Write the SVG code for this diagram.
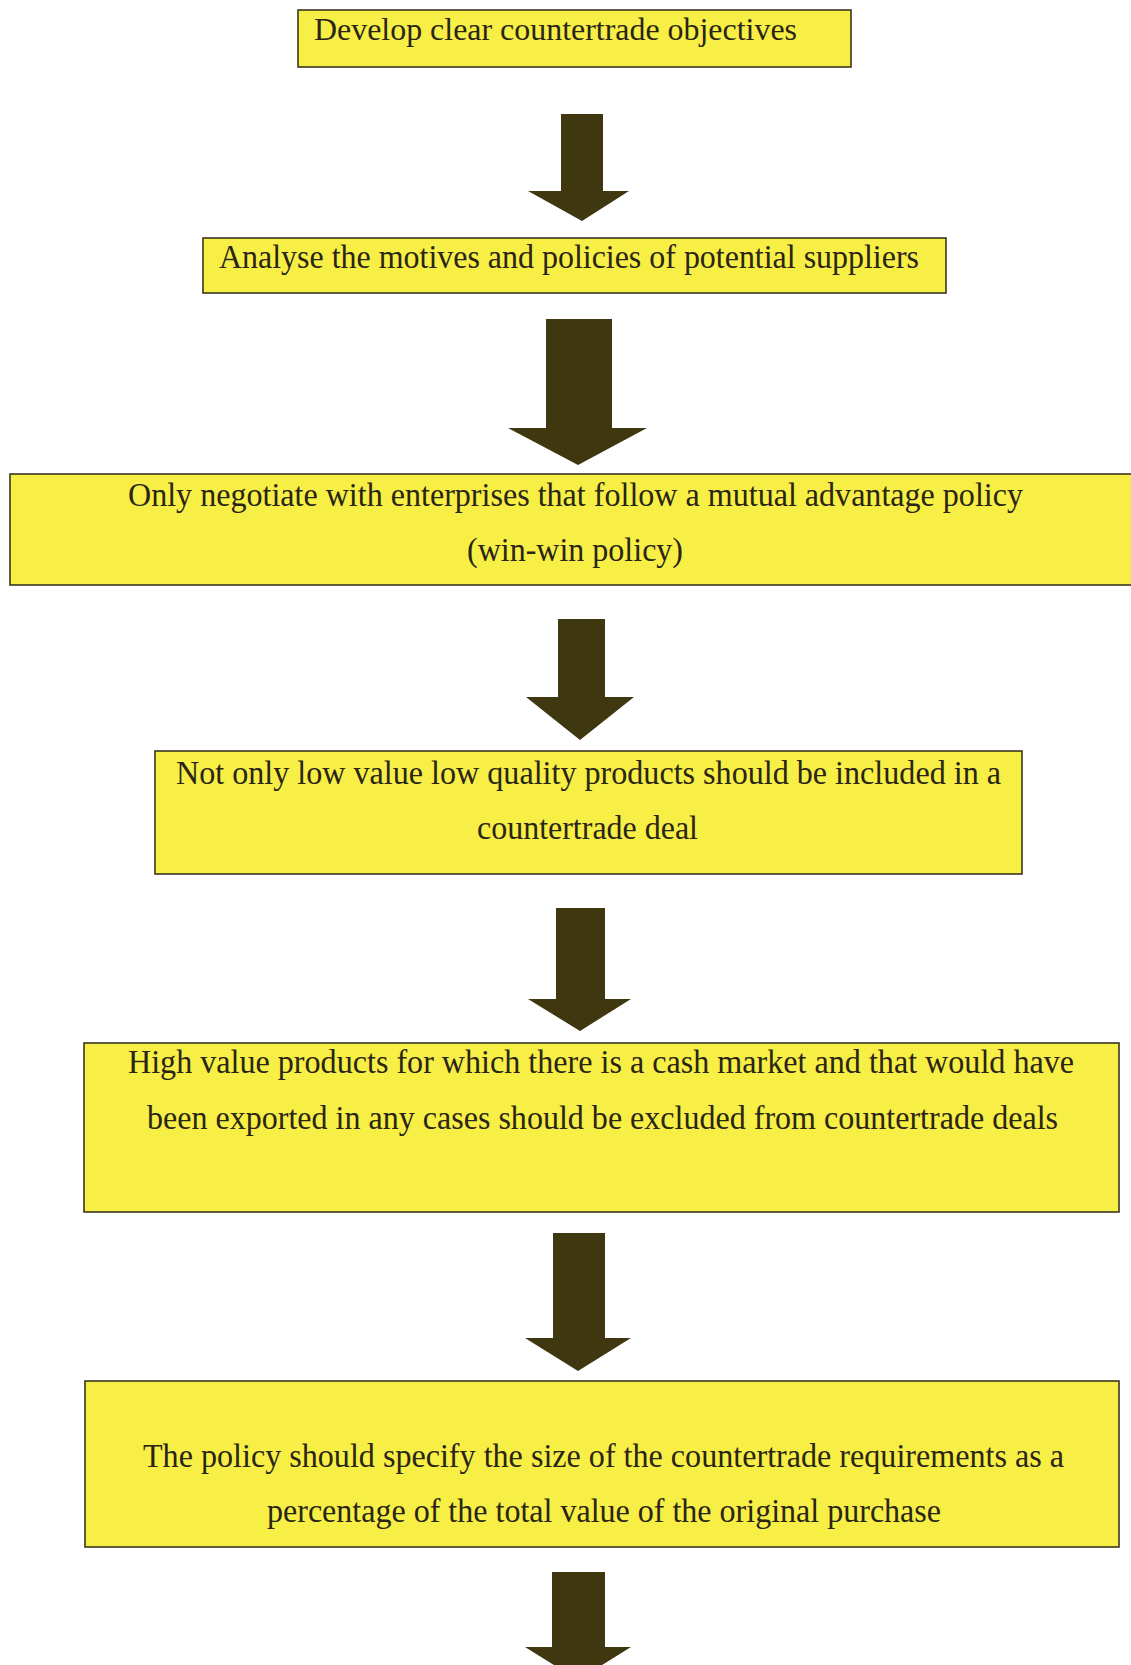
<svg xmlns="http://www.w3.org/2000/svg" width="1131" height="1665" viewBox="0 0 1131 1665">
<style>
.box{fill:#f7ef45;stroke:#3b3620;stroke-width:1.6}
.t{font-family:"Liberation Serif","Times New Roman",serif;font-size:33px;fill:#2a2515}
.arr{fill:#3f3710}
</style>
<rect width="1131" height="1665" fill="#ffffff"/>
<g id="connectors">
<polygon class="arr" points="561,114 603,114 603,191 629,191 582,221 528,191 561,191"/>
<polygon class="arr" points="546,319 612,319 612,428 647,428 578,465 508,428 546,428"/>
<polygon class="arr" points="558,619 605,619 605,697 634,697 580,740 526,697 558,697"/>
<polygon class="arr" points="556,908 605,908 605,999 631,999 580,1031 528,999 556,999"/>
<polygon class="arr" points="553,1233 605,1233 605,1338 631,1338 578,1371 525,1338 553,1338"/>
<polygon class="arr" points="552,1572 605,1572 605,1647 631,1647 578,1680 525,1647 552,1647"/>
</g>
<g id="node1">
<rect class="box" x="298" y="10" width="553" height="57"/>
<text class="t" x="314" y="40" textLength="483" lengthAdjust="spacingAndGlyphs" style="font-size:31px">Develop clear countertrade objectives</text>
</g>
<g id="node2">
<rect class="box" x="203" y="238" width="743" height="55"/>
<text class="t" x="219" y="268" textLength="700" lengthAdjust="spacingAndGlyphs">Analyse the motives and policies of potential suppliers</text>
</g>
<g id="node3">
<rect class="box" x="10" y="474" width="1130" height="111"/>
<text class="t" x="128" y="506" textLength="895" lengthAdjust="spacingAndGlyphs">Only negotiate with enterprises that follow a mutual advantage policy</text>
<text class="t" x="467" y="561" textLength="216" lengthAdjust="spacingAndGlyphs">(win-win policy)</text>
</g>
<g id="node4">
<rect class="box" x="155" y="751" width="867" height="123"/>
<text class="t" x="176" y="784" textLength="825" lengthAdjust="spacingAndGlyphs">Not only low value low quality products should be included in a</text>
<text class="t" x="477" y="839" textLength="221" lengthAdjust="spacingAndGlyphs">countertrade deal</text>
</g>
<g id="node5">
<rect class="box" x="84" y="1043" width="1035" height="169"/>
<text class="t" x="128" y="1073" textLength="946" lengthAdjust="spacingAndGlyphs">High value products for which there is a cash market and that would have</text>
<text class="t" x="147" y="1129" textLength="911" lengthAdjust="spacingAndGlyphs">been exported in any cases should be excluded from countertrade deals</text>
</g>
<g id="node6">
<rect class="box" x="85" y="1381" width="1034" height="166"/>
<text class="t" x="143" y="1467" textLength="921" lengthAdjust="spacingAndGlyphs">The policy should specify the size of the countertrade requirements as a</text>
<text class="t" x="267" y="1522" textLength="674" lengthAdjust="spacingAndGlyphs">percentage of the total value of the original purchase</text>
</g>
</svg>
